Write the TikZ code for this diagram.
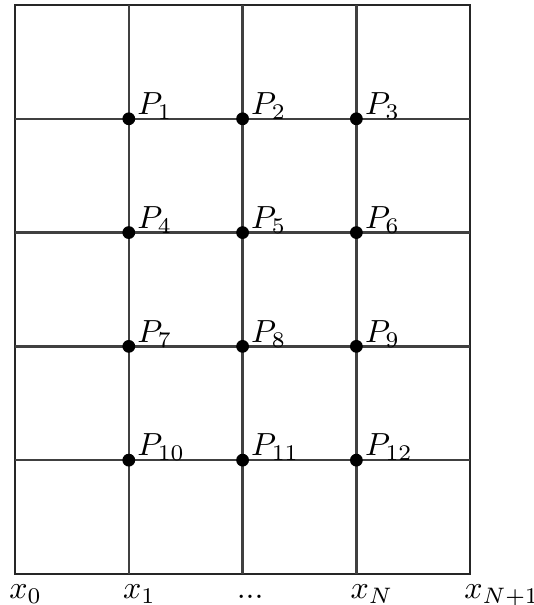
\documentclass[tikz,border=0pt]{standalone}
\begin{document}
\begin{tikzpicture}[x=1.25cm,y=1.25cm,
  knot/.style={circle,fill,inner sep=0pt,minimum size=4pt},
  plabel/.style={anchor=base west,inner sep=0pt,xshift=2.5pt,yshift=1.3pt},
  xlabel/.style={anchor=base west,inner sep=0pt,xshift=-2pt,yshift=-7.6pt},
  gridline/.style={line width=0.8pt,black!75}]
\useasboundingbox (-0.132,-0.273) rectangle (4.556,5.044);
\draw[line width=0.5pt,black!85] (0,0) rectangle (4,5);
\foreach \i in {1,2,3} \draw[gridline] (\i,0) -- (\i,5);
\foreach \j in {1,...,4} \draw[gridline] (0,\j) -- (4,\j);
% grid points, numbered row by row from the top
\foreach \j in {1,...,4}
  \foreach \i in {1,2,3} {
    \pgfmathtruncatemacro{\k}{3*(\j-1)+\i}
    \node[knot] (P\k) at (\i,5-\j) {};
    \node[plabel] (L\k) at (P\k.center) {$P_{\k}$};
  }
% abscissae
\foreach \i/\t in {0/x_0,1/x_1,2/{.}{.}{.},3/x_N,4/x_{N+1}}
  \node[xlabel] (x\i) at (\i,0) {$\t$};
\end{tikzpicture}
\end{document}
